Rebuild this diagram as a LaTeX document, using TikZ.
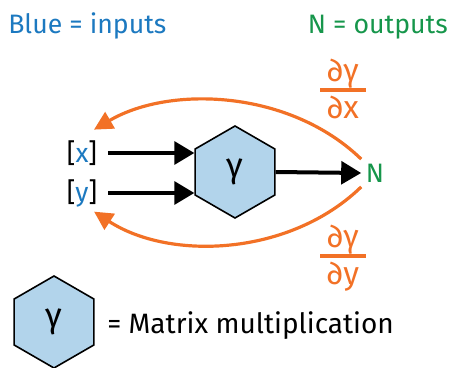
\documentclass[tikz,border=0pt]{standalone}
\usepackage{amsmath}
\usepackage{fontspec}
\setmainfont{Fira Sans}
\usetikzlibrary{arrows.meta, positioning, shapes.geometric}
\definecolor{inblue}{RGB}{28, 121, 192}
\definecolor{outgreen}{RGB}{22, 150, 75}
\definecolor{gradorange}{RGB}{242, 113, 38}
\definecolor{hexblue}{RGB}{178, 212, 235}
\newcommand{\pdiff}[2]{\ensuremath{\genfrac{}{}{3pt}{1}%
  {\raisebox{0pt}[\height][2pt]{\hspace{5pt}∂#1\hspace{5pt}}}{\mbox{∂#2}}}}

\begin{document}
\begin{tikzpicture}[x=0.75pt, y=-0.75pt,
        lbl/.style={font=\fontsize{20}{24}\selectfont},
        vec/.style={lbl, inner sep=2pt},
        hexa/.style={draw, fill=hexblue, line width=1.2pt, regular polygon, regular polygon sides=6,
          shape border rotate=30, minimum size=69pt, inner sep=0pt, font=\fontsize{26}{30}\selectfont},
        arr/.style={-{Triangle[length=15pt, width=17pt]}, line width=3pt},
        grad/.style={-{Triangle[length=14pt, width=14pt]}, line width=2.4pt, gradorange},
        frac/.style={text=gradorange, inner sep=0pt, font=\fontsize{24}{28}\selectfont}
      ]
        \useasboundingbox (0,0) rectangle (452,367);
        \node[lbl, text=inblue, anchor=base west, inner sep=0pt] (ins) at (8,34) {Blue = inputs};
        \node[lbl, text=outgreen, anchor=base east, inner sep=0pt] (outs) at (448,34) {N = outputs};
        \node[vec] (x) at (82,153) {[{\color{inblue}x}]};
        \node[vec] (y) at (82,193) {[{\color{inblue}y}]};
        \node[hexa] (g) at (235,172) {γ};
        \node[lbl, text=outgreen] (n) at (375,173) {N};
        \node[frac] (dx) at (343,89) {\pdiff{γ}{x}};
        \node[frac] (dy) at (343,258) {\pdiff{γ}{y}};
        \draw[arr] ([xshift=6pt]x.east) -- (x -| g.west);
        \draw[arr] ([xshift=6pt]y.east) -- (y -| g.west);
        \draw[arr] (g.east) -- (n.west);
        % gradients back to the inputs
        \draw[grad] (n.north west) .. controls (290,90) and (170,85) .. ([shift={(-6,-8)}]x.north east);
        \draw[grad] (n.south west) .. controls (290,256) and (170,261) .. ([shift={(-6,2)}]y.south east);
        \node[hexa] (key) at (54,322) {γ};
        \node[lbl, anchor=base west, inner sep=0pt, font=\fontsize{21}{25}\selectfont] (keytxt) at (107,333) {= Matrix multiplication};
      \end{tikzpicture}
\end{document}
